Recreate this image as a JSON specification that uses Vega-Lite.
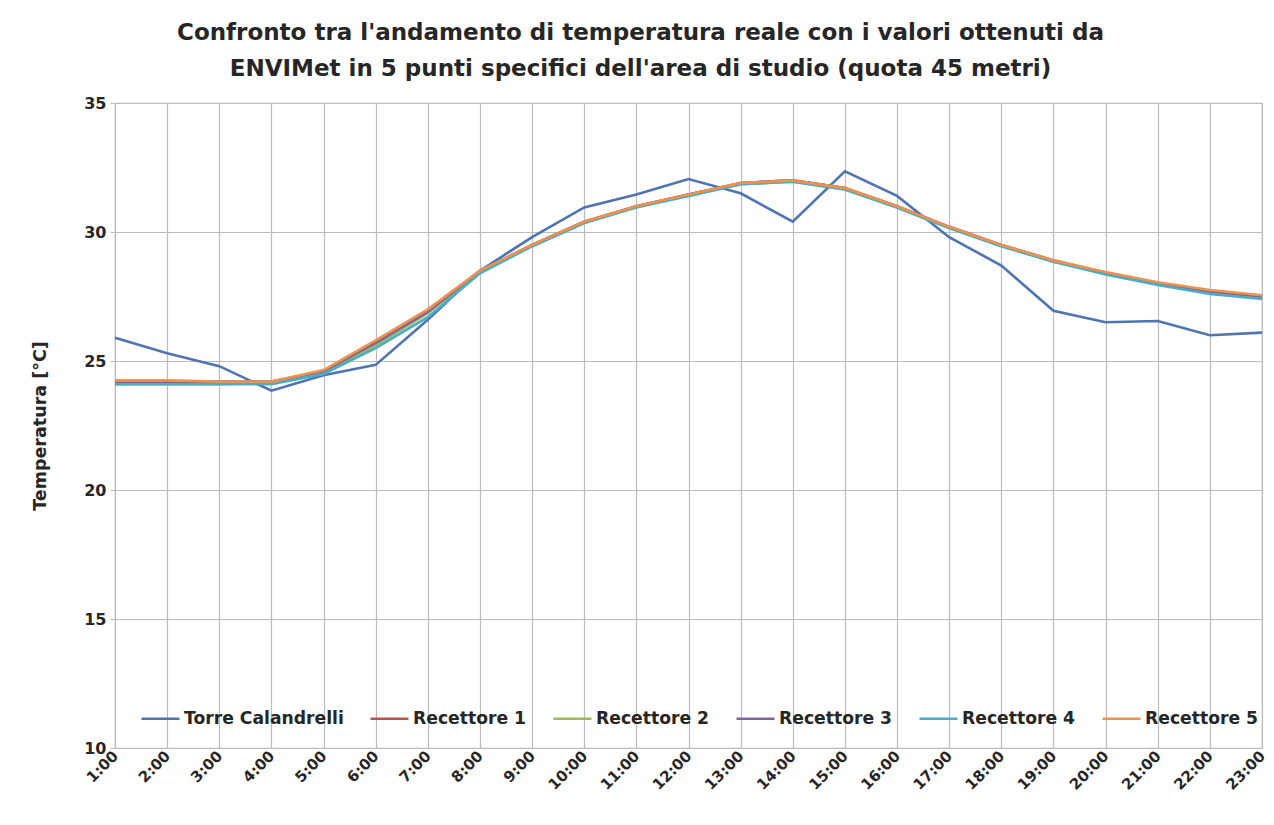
{
  "$schema": "https://vega.github.io/schema/vega-lite/v6.json",
  "width": 1147,
  "height": 645,
  "autosize": {"type": "none"},
  "padding": {"left": 115, "top": 103, "right": 12, "bottom": 77},
  "background": "white",
  "title": {
    "text": ["Confronto tra l'andamento di temperatura reale con i valori ottenuti da", "ENVIMet  in 5 punti specifici  dell'area di studio (quota 45 metri)"],
    "font": "DejaVu Sans",
    "fontSize": 23,
    "fontWeight": "bold",
    "color": "#262626",
    "anchor": "middle",
    "dx": -48,
    "offset": 14,
    "lineHeight": 36
  },
  "datasets": {
    "temps": [
      {"hour": "1:00", "series": "Torre Calandrelli", "temp": 25.9},
      {"hour": "2:00", "series": "Torre Calandrelli", "temp": 25.3},
      {"hour": "3:00", "series": "Torre Calandrelli", "temp": 24.8},
      {"hour": "4:00", "series": "Torre Calandrelli", "temp": 23.85},
      {"hour": "5:00", "series": "Torre Calandrelli", "temp": 24.45},
      {"hour": "6:00", "series": "Torre Calandrelli", "temp": 24.85},
      {"hour": "7:00", "series": "Torre Calandrelli", "temp": 26.6},
      {"hour": "8:00", "series": "Torre Calandrelli", "temp": 28.5},
      {"hour": "9:00", "series": "Torre Calandrelli", "temp": 29.8},
      {"hour": "10:00", "series": "Torre Calandrelli", "temp": 30.95},
      {"hour": "11:00", "series": "Torre Calandrelli", "temp": 31.45},
      {"hour": "12:00", "series": "Torre Calandrelli", "temp": 32.05},
      {"hour": "13:00", "series": "Torre Calandrelli", "temp": 31.5},
      {"hour": "14:00", "series": "Torre Calandrelli", "temp": 30.4},
      {"hour": "15:00", "series": "Torre Calandrelli", "temp": 32.35},
      {"hour": "16:00", "series": "Torre Calandrelli", "temp": 31.4},
      {"hour": "17:00", "series": "Torre Calandrelli", "temp": 29.8},
      {"hour": "18:00", "series": "Torre Calandrelli", "temp": 28.7},
      {"hour": "19:00", "series": "Torre Calandrelli", "temp": 26.95},
      {"hour": "20:00", "series": "Torre Calandrelli", "temp": 26.5},
      {"hour": "21:00", "series": "Torre Calandrelli", "temp": 26.55},
      {"hour": "22:00", "series": "Torre Calandrelli", "temp": 26.0},
      {"hour": "23:00", "series": "Torre Calandrelli", "temp": 26.1},

      {"hour": "1:00", "series": "Recettore 1", "temp": 24.15},
      {"hour": "2:00", "series": "Recettore 1", "temp": 24.15},
      {"hour": "3:00", "series": "Recettore 1", "temp": 24.15},
      {"hour": "4:00", "series": "Recettore 1", "temp": 24.15},
      {"hour": "5:00", "series": "Recettore 1", "temp": 24.6},
      {"hour": "6:00", "series": "Recettore 1", "temp": 25.7},
      {"hour": "7:00", "series": "Recettore 1", "temp": 26.9},
      {"hour": "8:00", "series": "Recettore 1", "temp": 28.45},
      {"hour": "9:00", "series": "Recettore 1", "temp": 29.5},
      {"hour": "10:00", "series": "Recettore 1", "temp": 30.4},
      {"hour": "11:00", "series": "Recettore 1", "temp": 31.0},
      {"hour": "12:00", "series": "Recettore 1", "temp": 31.45},
      {"hour": "13:00", "series": "Recettore 1", "temp": 31.9},
      {"hour": "14:00", "series": "Recettore 1", "temp": 32.0},
      {"hour": "15:00", "series": "Recettore 1", "temp": 31.7},
      {"hour": "16:00", "series": "Recettore 1", "temp": 31.0},
      {"hour": "17:00", "series": "Recettore 1", "temp": 30.2},
      {"hour": "18:00", "series": "Recettore 1", "temp": 29.5},
      {"hour": "19:00", "series": "Recettore 1", "temp": 28.9},
      {"hour": "20:00", "series": "Recettore 1", "temp": 28.4},
      {"hour": "21:00", "series": "Recettore 1", "temp": 28.0},
      {"hour": "22:00", "series": "Recettore 1", "temp": 27.7},
      {"hour": "23:00", "series": "Recettore 1", "temp": 27.5},

      {"hour": "1:00", "series": "Recettore 2", "temp": 24.1},
      {"hour": "2:00", "series": "Recettore 2", "temp": 24.1},
      {"hour": "3:00", "series": "Recettore 2", "temp": 24.1},
      {"hour": "4:00", "series": "Recettore 2", "temp": 24.15},
      {"hour": "5:00", "series": "Recettore 2", "temp": 24.55},
      {"hour": "6:00", "series": "Recettore 2", "temp": 25.6},
      {"hour": "7:00", "series": "Recettore 2", "temp": 26.85},
      {"hour": "8:00", "series": "Recettore 2", "temp": 28.45},
      {"hour": "9:00", "series": "Recettore 2", "temp": 29.45},
      {"hour": "10:00", "series": "Recettore 2", "temp": 30.35},
      {"hour": "11:00", "series": "Recettore 2", "temp": 31.0},
      {"hour": "12:00", "series": "Recettore 2", "temp": 31.4},
      {"hour": "13:00", "series": "Recettore 2", "temp": 31.85},
      {"hour": "14:00", "series": "Recettore 2", "temp": 31.95},
      {"hour": "15:00", "series": "Recettore 2", "temp": 31.65},
      {"hour": "16:00", "series": "Recettore 2", "temp": 30.95},
      {"hour": "17:00", "series": "Recettore 2", "temp": 30.15},
      {"hour": "18:00", "series": "Recettore 2", "temp": 29.45},
      {"hour": "19:00", "series": "Recettore 2", "temp": 28.85},
      {"hour": "20:00", "series": "Recettore 2", "temp": 28.4},
      {"hour": "21:00", "series": "Recettore 2", "temp": 28.0},
      {"hour": "22:00", "series": "Recettore 2", "temp": 27.65},
      {"hour": "23:00", "series": "Recettore 2", "temp": 27.45},

      {"hour": "1:00", "series": "Recettore 3", "temp": 24.2},
      {"hour": "2:00", "series": "Recettore 3", "temp": 24.2},
      {"hour": "3:00", "series": "Recettore 3", "temp": 24.2},
      {"hour": "4:00", "series": "Recettore 3", "temp": 24.2},
      {"hour": "5:00", "series": "Recettore 3", "temp": 24.6},
      {"hour": "6:00", "series": "Recettore 3", "temp": 25.7},
      {"hour": "7:00", "series": "Recettore 3", "temp": 26.9},
      {"hour": "8:00", "series": "Recettore 3", "temp": 28.5},
      {"hour": "9:00", "series": "Recettore 3", "temp": 29.5},
      {"hour": "10:00", "series": "Recettore 3", "temp": 30.4},
      {"hour": "11:00", "series": "Recettore 3", "temp": 31.0},
      {"hour": "12:00", "series": "Recettore 3", "temp": 31.45},
      {"hour": "13:00", "series": "Recettore 3", "temp": 31.9},
      {"hour": "14:00", "series": "Recettore 3", "temp": 32.0},
      {"hour": "15:00", "series": "Recettore 3", "temp": 31.7},
      {"hour": "16:00", "series": "Recettore 3", "temp": 31.0},
      {"hour": "17:00", "series": "Recettore 3", "temp": 30.2},
      {"hour": "18:00", "series": "Recettore 3", "temp": 29.5},
      {"hour": "19:00", "series": "Recettore 3", "temp": 28.9},
      {"hour": "20:00", "series": "Recettore 3", "temp": 28.4},
      {"hour": "21:00", "series": "Recettore 3", "temp": 28.0},
      {"hour": "22:00", "series": "Recettore 3", "temp": 27.7},
      {"hour": "23:00", "series": "Recettore 3", "temp": 27.5},

      {"hour": "1:00", "series": "Recettore 4", "temp": 24.1},
      {"hour": "2:00", "series": "Recettore 4", "temp": 24.1},
      {"hour": "3:00", "series": "Recettore 4", "temp": 24.1},
      {"hour": "4:00", "series": "Recettore 4", "temp": 24.1},
      {"hour": "5:00", "series": "Recettore 4", "temp": 24.5},
      {"hour": "6:00", "series": "Recettore 4", "temp": 25.5},
      {"hour": "7:00", "series": "Recettore 4", "temp": 26.7},
      {"hour": "8:00", "series": "Recettore 4", "temp": 28.4},
      {"hour": "9:00", "series": "Recettore 4", "temp": 29.45},
      {"hour": "10:00", "series": "Recettore 4", "temp": 30.35},
      {"hour": "11:00", "series": "Recettore 4", "temp": 30.95},
      {"hour": "12:00", "series": "Recettore 4", "temp": 31.4},
      {"hour": "13:00", "series": "Recettore 4", "temp": 31.85},
      {"hour": "14:00", "series": "Recettore 4", "temp": 31.95},
      {"hour": "15:00", "series": "Recettore 4", "temp": 31.65},
      {"hour": "16:00", "series": "Recettore 4", "temp": 30.95},
      {"hour": "17:00", "series": "Recettore 4", "temp": 30.15},
      {"hour": "18:00", "series": "Recettore 4", "temp": 29.45},
      {"hour": "19:00", "series": "Recettore 4", "temp": 28.85},
      {"hour": "20:00", "series": "Recettore 4", "temp": 28.35},
      {"hour": "21:00", "series": "Recettore 4", "temp": 27.95},
      {"hour": "22:00", "series": "Recettore 4", "temp": 27.6},
      {"hour": "23:00", "series": "Recettore 4", "temp": 27.4},

      {"hour": "1:00", "series": "Recettore 5", "temp": 24.25},
      {"hour": "2:00", "series": "Recettore 5", "temp": 24.25},
      {"hour": "3:00", "series": "Recettore 5", "temp": 24.2},
      {"hour": "4:00", "series": "Recettore 5", "temp": 24.2},
      {"hour": "5:00", "series": "Recettore 5", "temp": 24.65},
      {"hour": "6:00", "series": "Recettore 5", "temp": 25.8},
      {"hour": "7:00", "series": "Recettore 5", "temp": 27.0},
      {"hour": "8:00", "series": "Recettore 5", "temp": 28.5},
      {"hour": "9:00", "series": "Recettore 5", "temp": 29.5},
      {"hour": "10:00", "series": "Recettore 5", "temp": 30.4},
      {"hour": "11:00", "series": "Recettore 5", "temp": 31.0},
      {"hour": "12:00", "series": "Recettore 5", "temp": 31.45},
      {"hour": "13:00", "series": "Recettore 5", "temp": 31.9},
      {"hour": "14:00", "series": "Recettore 5", "temp": 32.0},
      {"hour": "15:00", "series": "Recettore 5", "temp": 31.7},
      {"hour": "16:00", "series": "Recettore 5", "temp": 31.0},
      {"hour": "17:00", "series": "Recettore 5", "temp": 30.2},
      {"hour": "18:00", "series": "Recettore 5", "temp": 29.5},
      {"hour": "19:00", "series": "Recettore 5", "temp": 28.9},
      {"hour": "20:00", "series": "Recettore 5", "temp": 28.45},
      {"hour": "21:00", "series": "Recettore 5", "temp": 28.05},
      {"hour": "22:00", "series": "Recettore 5", "temp": 27.75},
      {"hour": "23:00", "series": "Recettore 5", "temp": 27.55}
    ]
  },
  "data": {"name": "temps"},
  "mark": {"type": "line", "strokeWidth": 2.6},
  "encoding": {
    "x": {
      "field": "hour",
      "type": "ordinal",
      "sort": ["1:00","2:00","3:00","4:00","5:00","6:00","7:00","8:00","9:00","10:00","11:00","12:00","13:00","14:00","15:00","16:00","17:00","18:00","19:00","20:00","21:00","22:00","23:00"],
      "scale": {"type": "point", "padding": 0},
      "axis": {
        "title": null,
        "labelAngle": -45,
        "labelAlign": "right",
        "labelBaseline": "middle",
        "labelFont": "DejaVu Sans",
        "labelFontSize": 15,
        "labelFontWeight": "bold",
        "labelColor": "#262626",
        "labelPadding": 5,
        "grid": true,
        "gridColor": "#bcbcbc",
        "gridWidth": 1.2,
        "domain": false,
        "ticks": false
      }
    },
    "y": {
      "field": "temp",
      "type": "quantitative",
      "scale": {"domain": [10, 35], "nice": false, "zero": false},
      "axis": {
        "values": [10, 15, 20, 25, 30, 35],
        "title": "Temperatura [°C]",
        "titleFont": "DejaVu Sans",
        "titleFontSize": 17.5,
        "titleFontWeight": "bold",
        "titleColor": "#262626",
        "titlePadding": 34,
        "labelFont": "DejaVu Sans",
        "labelFontSize": 16,
        "labelFontWeight": "bold",
        "labelColor": "#262626",
        "labelPadding": 4,
        "grid": true,
        "gridColor": "#bcbcbc",
        "gridWidth": 1.2,
        "domain": false,
        "ticks": true,
        "tickSize": 5,
        "tickColor": "#bcbcbc"
      }
    },
    "color": {
      "field": "series",
      "type": "nominal",
      "sort": ["Torre Calandrelli", "Recettore 1", "Recettore 2", "Recettore 3", "Recettore 4", "Recettore 5"],
      "scale": {
        "domain": ["Torre Calandrelli", "Recettore 1", "Recettore 2", "Recettore 3", "Recettore 4", "Recettore 5"],
        "range": ["#4F74B0", "#C0504D", "#9BBB59", "#8064A2", "#4BACC6", "#F0914E"]
      },
      "legend": {
        "title": null,
        "orient": "none",
        "legendX": 25,
        "legendY": 595,
        "direction": "horizontal",
        "symbolType": "stroke",
        "symbolSize": 1444,
        "symbolStrokeWidth": 2.5,
        "labelFont": "DejaVu Sans",
        "labelFontSize": 17.2,
        "labelFontWeight": "bold",
        "labelColor": "#262626",
        "labelLimit": 0,
        "labelOffset": 3,
        "columnPadding": 21
      }
    }
  },
  "config": {
    "view": {"stroke": "#bcbcbc", "strokeWidth": 1.2}
  }
}
